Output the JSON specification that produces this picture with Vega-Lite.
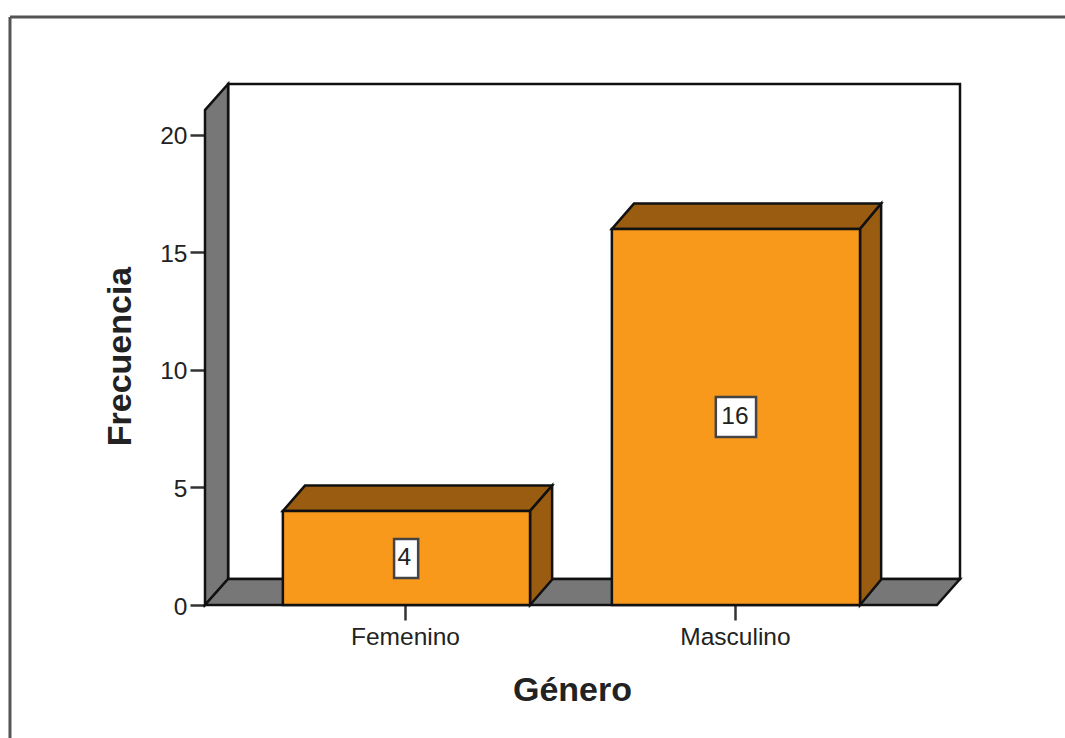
{"$schema":"https://vega.github.io/schema/vega-lite/v6.json","width":755,"height":521,"autosize":{"type":"none"},"padding":{"left":205,"top":84,"right":105,"bottom":133},"background":"white","config":{"view":{"stroke":null}},
"datasets":{
"walls":[
{"face":"wall-left","part":"gray","x":0.394,"y":0,"y2":0},
{"face":"wall-left","part":"gray","x":0.394,"y":0,"y2":21.06},
{"face":"wall-left","part":"gray","x":0.464,"y":1.106,"y2":22.17},
{"face":"floor","part":"gray","x":0.394,"y":0,"y2":0},
{"face":"floor","part":"gray","x":0.464,"y":0,"y2":1.106},
{"face":"floor","part":"gray","x":2.612,"y":0,"y2":1.106},
{"face":"floor","part":"gray","x":2.682,"y":1.106,"y2":1.106}],
"bars":[
{"face":"fem-top","part":"dark","x":0.63,"y":4,"y2":4},
{"face":"fem-top","part":"dark","x":0.697,"y":4,"y2":5.08},
{"face":"fem-top","part":"dark","x":1.379,"y":4,"y2":5.08},
{"face":"fem-top","part":"dark","x":1.446,"y":5.08,"y2":5.08},
{"face":"fem-side","part":"dark","x":1.379,"y":0,"y2":4},
{"face":"fem-side","part":"dark","x":1.446,"y":1.08,"y2":5.08},
{"face":"fem-front","part":"orange","x":0.63,"y":0,"y2":4},
{"face":"fem-front","part":"orange","x":1.379,"y":0,"y2":4},
{"face":"mas-top","part":"dark","x":1.627,"y":16,"y2":16},
{"face":"mas-top","part":"dark","x":1.694,"y":16,"y2":17.08},
{"face":"mas-top","part":"dark","x":2.379,"y":16,"y2":17.08},
{"face":"mas-top","part":"dark","x":2.443,"y":17.08,"y2":17.08},
{"face":"mas-side","part":"dark","x":2.379,"y":0,"y2":16},
{"face":"mas-side","part":"dark","x":2.443,"y":1.08,"y2":17.08},
{"face":"mas-front","part":"orange","x":1.627,"y":0,"y2":16},
{"face":"mas-front","part":"orange","x":2.379,"y":0,"y2":16}],
"labels":[
{"x":0.998,"x0":0.967,"x1":1.04,"y":2,"y0":1.15,"y1":2.81,"n":"4"},
{"x":2.0,"x0":1.942,"x1":2.064,"y":8,"y0":7.15,"y1":8.85,"n":"16"}],
"frame":[
{"x":-0.197,"x2":4,"y":25.02,"y2":25.02},
{"x":-0.197,"x2":-0.197,"y":25.02,"y2":-5.66}],
"back":[{"x":0.464,"x2":2.682,"y":1.106,"y2":22.17}]
},
"encoding":{
"x":{"field":"x","type":"quantitative","scale":{"domain":[0.394,2.682],"nice":false,"zero":false},
"axis":{"values":[1,2],"labelExpr":"datum.value==1?'Femenino':'Masculino'","title":"Género","grid":false,"domain":false,"tickSize":15,"tickWidth":2.5,"tickColor":"#333","labelFont":"Liberation Sans","labelFontSize":24.5,"labelColor":"#222","labelPadding":5,"titleFont":"Liberation Sans","titleFontWeight":"bold","titleFontSize":34,"titleColor":"#222","titleX":367,"titleY":85,"titleBaseline":"middle"}},
"y":{"field":"y","type":"quantitative","scale":{"domain":[0,22.17],"nice":false,"zero":false},
"axis":{"values":[0,5,10,15,20],"title":"Frecuencia","grid":false,"domain":false,"tickSize":15,"tickWidth":2.5,"tickColor":"#333","labelFont":"Liberation Sans","labelFontSize":24.5,"labelColor":"#222","labelPadding":3,"labelOffset":2,"titleFont":"Liberation Sans","titleFontWeight":"bold","titleFontSize":34,"titleColor":"#222","titleX":-85,"titleY":272,"titleBaseline":"middle"}}
},
"layer":[
{"data":{"name":"frame"},"mark":{"type":"rule","stroke":"#555","strokeWidth":3},"encoding":{"x2":{"field":"x2"},"y2":{"field":"y2"}}},
{"data":{"name":"back"},"mark":{"type":"rect","fill":"white","stroke":"#111","strokeWidth":2.5},"encoding":{"x2":{"field":"x2"},"y2":{"field":"y2"}}},
{"data":{"name":"walls"},"mark":{"type":"area","stroke":"#111","strokeWidth":2.5,"fillOpacity":1,"strokeJoin":"miter"},"encoding":{"y2":{"field":"y2"},"detail":{"field":"face"},"color":{"field":"part","type":"nominal","legend":null,"scale":{"domain":["gray","dark","orange"],"range":["#777777","#995C11","#F9991C"]}}}},
{"data":{"name":"bars"},"mark":{"type":"area","stroke":"#111","strokeWidth":2.5,"fillOpacity":1,"strokeJoin":"miter"},"encoding":{"y2":{"field":"y2"},"detail":{"field":"face"},"color":{"field":"part","type":"nominal","legend":null,"scale":{"domain":["gray","dark","orange"],"range":["#777777","#995C11","#F9991C"]}}}},
{"data":{"name":"labels"},"mark":{"type":"rect","fill":"white","stroke":"#444","strokeWidth":2.5},"encoding":{"x":{"field":"x0","type":"quantitative"},"x2":{"field":"x1"},"y":{"field":"y0","type":"quantitative"},"y2":{"field":"y1"}}},
{"data":{"name":"labels"},"mark":{"type":"text","font":"Liberation Sans","fontSize":24.5,"color":"#222","align":"center","baseline":"middle"},"encoding":{"text":{"field":"n","type":"nominal"}}}
]}
